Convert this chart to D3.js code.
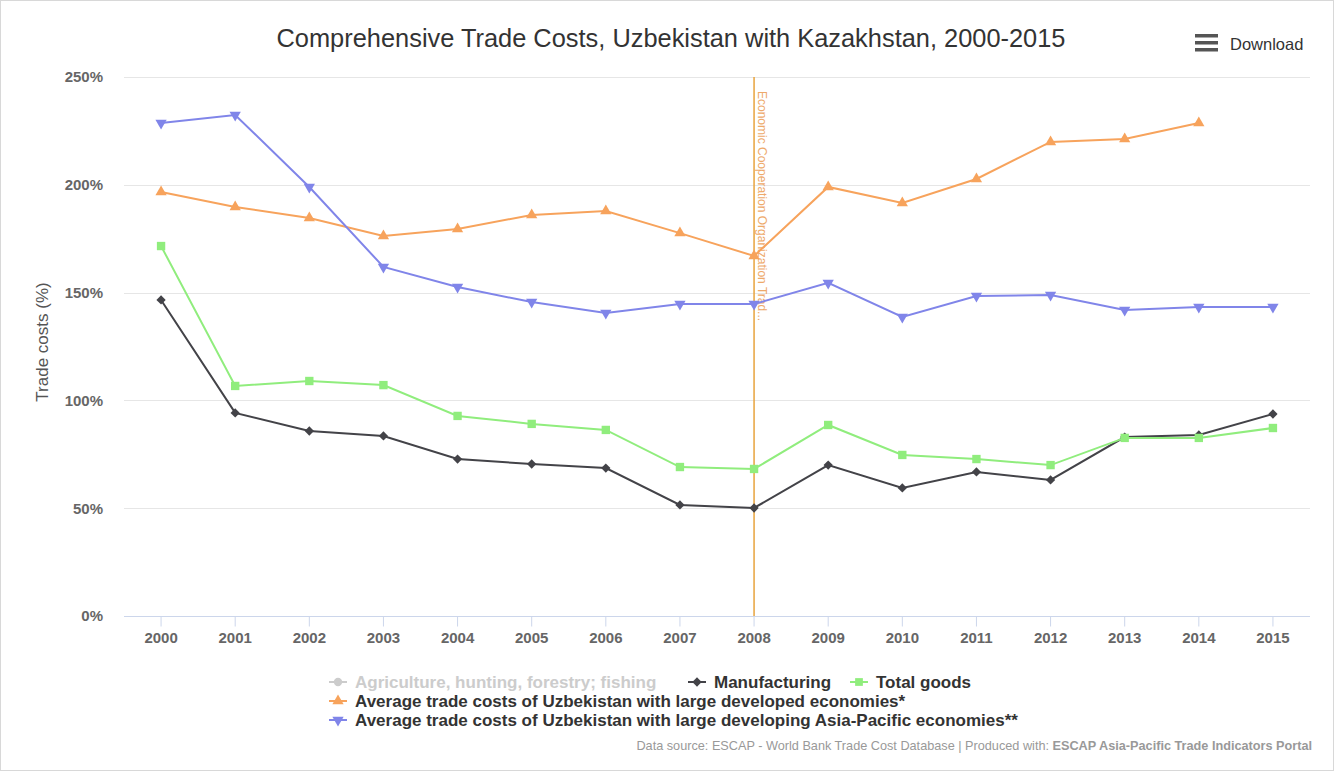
<!DOCTYPE html>
<html>
<head>
<meta charset="utf-8">
<script src="https://cdn.jsdelivr.net/npm/d3@7"></script>
<style>
  body { margin: 0; background: #fff; font-family: "Liberation Sans", Arial, sans-serif; }
  #chart svg { display: block; }
</style>
</head>
<body>
<div id="chart"></div>
<script>
// years on the x axis
var years = ["2000","2001","2002","2003","2004","2005","2006","2007","2008","2009","2010","2011","2012","2013","2014","2015"];

// series values (%)
var manufacturing = [146.6, 94.2, 85.8, 83.5, 72.8, 70.5, 68.6, 51.5, 50.1, 70.0, 59.4, 66.8, 63.1, 83.0, 84.0, 93.7];
var totalGoods = [171.6, 106.7, 109.0, 107.1, 92.8, 89.1, 86.3, 69.1, 68.2, 88.6, 74.7, 72.8, 70.0, 82.6, 82.6, 87.2];
var developed = [196.7, 189.7, 184.6, 176.3, 179.5, 186.0, 187.8, 177.6, 167.0, 199.0, 191.6, 202.7, 219.9, 221.2, 228.7, null];
var asiaPacific = [228.7, 232.4, 199.0, 161.9, 152.6, 145.6, 140.5, 144.7, 144.7, 154.5, 138.7, 148.4, 148.9, 141.9, 143.3, 143.3];

var yTicks = [0, 50, 100, 150, 200, 250];

var svgWidth = 1334, svgHeight = 771;
var margin = { top: 77, right: 24, bottom: 155, left: 124 };
var width = svgWidth - margin.left - margin.right;
var height = svgHeight - margin.top - margin.bottom;

var svg = d3.select("#chart").append("svg")
  .attr("width", svgWidth)
  .attr("height", svgHeight);

// outer frame
svg.append("rect")
  .attr("x", 0.5).attr("y", 0.5)
  .attr("width", svgWidth - 1).attr("height", svgHeight - 1)
  .attr("fill", "#fff").attr("stroke", "#d8d8d8");

var chartGroup = svg.append("g")
  .attr("transform", `translate(${margin.left}, ${margin.top})`);

var xScale = d3.scaleBand().domain(years).range([0, width]);
var xPos = d => xScale(d) + xScale.bandwidth() / 2;

var yScale = d3.scaleLinear().domain([0, 250]).range([height, 0]);

// grid lines
chartGroup.append("g")
  .selectAll("line")
  .data(yTicks.filter(t => t > 0))
  .enter()
  .append("line")
  .attr("x1", 0).attr("x2", width)
  .attr("y1", d => Math.round(yScale(d)) + 0.5)
  .attr("y2", d => Math.round(yScale(d)) + 0.5)
  .attr("stroke", "#e6e6e6");

// y axis labels
var leftAxis = d3.axisLeft(yScale).tickValues(yTicks).tickSize(0).tickPadding(21).tickFormat(d => d + "%");
chartGroup.append("g")
  .call(leftAxis)
  .call(g => g.select(".domain").remove())
  .selectAll("text")
  .attr("font-family", "Liberation Sans, Arial, sans-serif")
  .attr("font-size", "15px")
  .attr("font-weight", "bold")
  .attr("fill", "#666");

// x axis
var bottomAxis = d3.axisBottom(xScale).tickSize(10).tickPadding(6);
var xAxisG = chartGroup.append("g")
  .attr("transform", `translate(0, ${height + 0.5})`)
  .call(bottomAxis);
xAxisG.select(".domain").attr("stroke", "#ccd6eb").attr("d", `M0,0H${width}`);
xAxisG.selectAll(".tick line").attr("stroke", "#ccd6eb").attr("y1", 0);
xAxisG.selectAll("text")
  .attr("font-family", "Liberation Sans, Arial, sans-serif")
  .attr("font-size", "15px")
  .attr("font-weight", "bold")
  .attr("fill", "#666");

// y axis title
chartGroup.append("text")
  .attr("transform", "rotate(-90)")
  .attr("x", -(342 - margin.top))
  .attr("y", -76)
  .attr("text-anchor", "middle")
  .attr("font-size", "17px")
  .attr("fill", "#555")
  .text("Trade costs (%)");

// plot line at 2008
var x2008 = xPos("2008");
chartGroup.append("line")
  .attr("x1", x2008).attr("x2", x2008)
  .attr("y1", 0).attr("y2", height)
  .attr("stroke", "#e8a33d").attr("stroke-width", 1.5);
chartGroup.append("text")
  .attr("transform", `translate(${x2008 + 4}, 14) rotate(90)`)
  .attr("font-size", "12px")
  .attr("fill", "#eea96a")
  .text("Economic Cooperation Organization Trad...");

// series
var series = [
  { name: "Manufacturing", values: manufacturing, color: "#434348", symbol: d3.symbolDiamond2, size: 55, rot: 0 },
  { name: "Total goods", values: totalGoods, color: "#90ed7d", symbol: d3.symbolSquare, size: 70, rot: 0 },
  { name: "Average trade costs of Uzbekistan with large developed economies*", values: developed, color: "#f7a35c", symbol: d3.symbolTriangle, size: 55, rot: 0 },
  { name: "Average trade costs of Uzbekistan with large developing Asia-Pacific economies**", values: asiaPacific, color: "#8085e9", symbol: d3.symbolTriangle, size: 55, rot: 180 }
];

var line = d3.line()
  .defined(d => d.v != null)
  .x(d => xPos(d.year))
  .y(d => yScale(d.v));

series.forEach(function(s) {
  var pts = years.map((y, i) => ({ year: y, v: s.values[i] }));
  chartGroup.append("path")
    .datum(pts)
    .attr("d", line)
    .attr("fill", "none")
    .attr("stroke", s.color)
    .attr("stroke-width", 2);
  chartGroup.selectAll(null)
    .data(pts.filter(d => d.v != null))
    .enter()
    .append("path")
    .attr("d", d3.symbol().type(s.symbol).size(s.size))
    .attr("transform", d => `translate(${xPos(d.year)}, ${yScale(d.v)}) rotate(${s.rot})`)
    .attr("fill", s.color);
});

// title
svg.append("text")
  .attr("x", 671)
  .attr("y", 47)
  .attr("text-anchor", "middle")
  .attr("font-size", "25.4px")
  .attr("fill", "#333")
  .text("Comprehensive Trade Costs, Uzbekistan with Kazakhstan, 2000-2015");

// download button
var dl = svg.append("g").attr("transform", "translate(1195, 34)");
[0, 7, 14].forEach(function(dy) {
  dl.append("rect").attr("x", 0).attr("y", dy).attr("width", 23).attr("height", 3.5).attr("fill", "#555");
});
dl.append("text").attr("x", 35).attr("y", 16).attr("font-size", "16.5px").attr("fill", "#333").text("Download");

// legend
var legendItems = [
  { name: "Agriculture, hunting, forestry; fishing", color: "#ccc", text: "#ccc", symbol: d3.symbolCircle, size: 55, rot: 0, x: 329, y: 682 },
  { name: series[0].name, color: series[0].color, text: "#333", symbol: series[0].symbol, size: 55, rot: 0, x: 688, y: 682 },
  { name: series[1].name, color: series[1].color, text: "#333", symbol: series[1].symbol, size: 60, rot: 0, x: 850, y: 682 },
  { name: series[2].name, color: series[2].color, text: "#333", symbol: series[2].symbol, size: 55, rot: 0, x: 329, y: 701 },
  { name: series[3].name, color: series[3].color, text: "#333", symbol: series[3].symbol, size: 55, rot: 180, x: 329, y: 720 }
];
var legend = svg.append("g");
legendItems.forEach(function(it) {
  var g = legend.append("g").attr("transform", `translate(${it.x}, ${it.y})`);
  g.append("line").attr("x1", 0).attr("x2", 18).attr("y1", 0).attr("y2", 0)
    .attr("stroke", it.color).attr("stroke-width", 2);
  g.append("path").attr("d", d3.symbol().type(it.symbol).size(it.size))
    .attr("transform", `translate(9, 0) rotate(${it.rot})`).attr("fill", it.color);
  g.append("text").attr("x", 26).attr("y", 6)
    .attr("font-size", "17px").attr("font-weight", "bold").attr("fill", it.text)
    .text(it.name);
});

// credits
var credits = svg.append("text")
  .attr("x", 1312).attr("y", 750)
  .attr("text-anchor", "end")
  .attr("font-size", "12.7px")
  .attr("fill", "#999");
credits.append("tspan").text("Data source: ESCAP - World Bank Trade Cost Database | Produced with: ");
credits.append("tspan").attr("font-weight", "bold").text("ESCAP Asia-Pacific Trade Indicators Portal");
</script>
</body>
</html>
